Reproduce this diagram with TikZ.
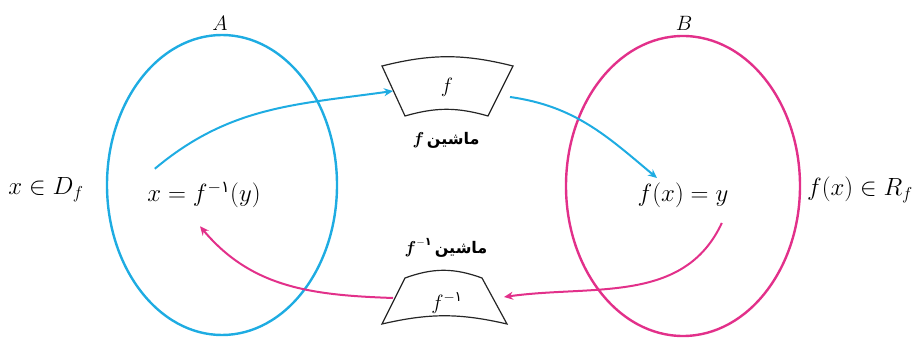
\documentclass[tikz,border=0pt]{standalone}
\usepackage{amsmath}
\usepackage{fontspec}
\newfontfamily\arabicfont[Script=Arabic]{DejaVu Sans}
\TeXXeTstate=1
\usetikzlibrary{arrows.meta}
\definecolor{mapcyan}{RGB}{30,172,226}
\definecolor{mappink}{RGB}{226,48,138}
\newcommand{\pone}{\text{\arabicfont ۱}}

\begin{document}
\begin{tikzpicture}[x=1pt,y=1pt,
   set/.style={line width=2.4pt},
   machine/.style={draw=black!85,line width=1.2pt,fill=white},
   lbl/.style={font=\fontsize{23}{26}\selectfont},
   setname/.style={font=\fontsize{20}{23}\selectfont},
   mname/.style={font=\fontsize{16}{19}\selectfont\bfseries},
   fwd/.style={mapcyan,line width=2pt,-{Stealth[length=9pt,width=8pt]}},
   bwd/.style={mappink,line width=2pt,-{Stealth[length=9pt,width=8pt]}}]
   \useasboundingbox (0,0) rectangle (915,347);
   % the two sets
   \draw[set,mapcyan] (222,162) ellipse [x radius=115,y radius=150];
   \draw[set,mappink] (683,161) ellipse [x radius=117,y radius=150];
   \node[setname] (A) at (220,324) {$A$};
   \node[setname] (B) at (684,324) {$B$};
   \node[lbl] (xDf) at (46,157) {$x\in D_f$};
   \node[lbl] (xinv) at (204,152) {$x=f^{-\pone}(y)$};
   \node[lbl] (fxy) at (683,152) {$f(x)=y$};
   \node[lbl] (fxRf) at (860,157) {$f(x)\in R_f$};
   % the machines
   \draw[machine] (382,281) to[bend left=14] (513,281) -- (488,231)
      to[bend right=16] (405,231) -- cycle;
   \draw[machine] (405,69) to[bend left=20] (482,69) -- (507,23)
      to[bend right=13] (382,23) -- cycle;
   \node[font=\fontsize{20}{22}\selectfont] (fbox) at (447,260) {$f$};
   \node[font=\fontsize{20}{22}\selectfont] (ginvbox) at (447,44) {$f^{-\pone}$};
   \node[mname] (fname) at (446,207) {$\boldsymbol{f}$\,{\arabicfont\bfseries\beginR ماشین\endR}};
   \node[mname] (ginvname) at (446,99) {$\boldsymbol{f}^{-\pone}$\,{\arabicfont\bfseries\beginR ماشین\endR}};
   \coordinate (fin) at (393,256);
   \coordinate (fout) at (510,250);
   \coordinate (gin) at (504,50);
   \coordinate (gout) at (393,49);
   % arrows
   \draw[fwd] ([xshift=11,yshift=10]xinv.north west) to[out=40,in=188] (fin);
   \draw[fwd] (fout) to[out=-8,in=140] ([xshift=-26,yshift=1]fxy.north);
   \draw[bwd] ([xshift=-10,yshift=-12]fxy.south east) to[out=-115,in=8] (gin);
   \draw[bwd] (gout) to[out=178,in=-50] ([xshift=-4,yshift=-15]xinv.south);
\end{tikzpicture}
\end{document}
